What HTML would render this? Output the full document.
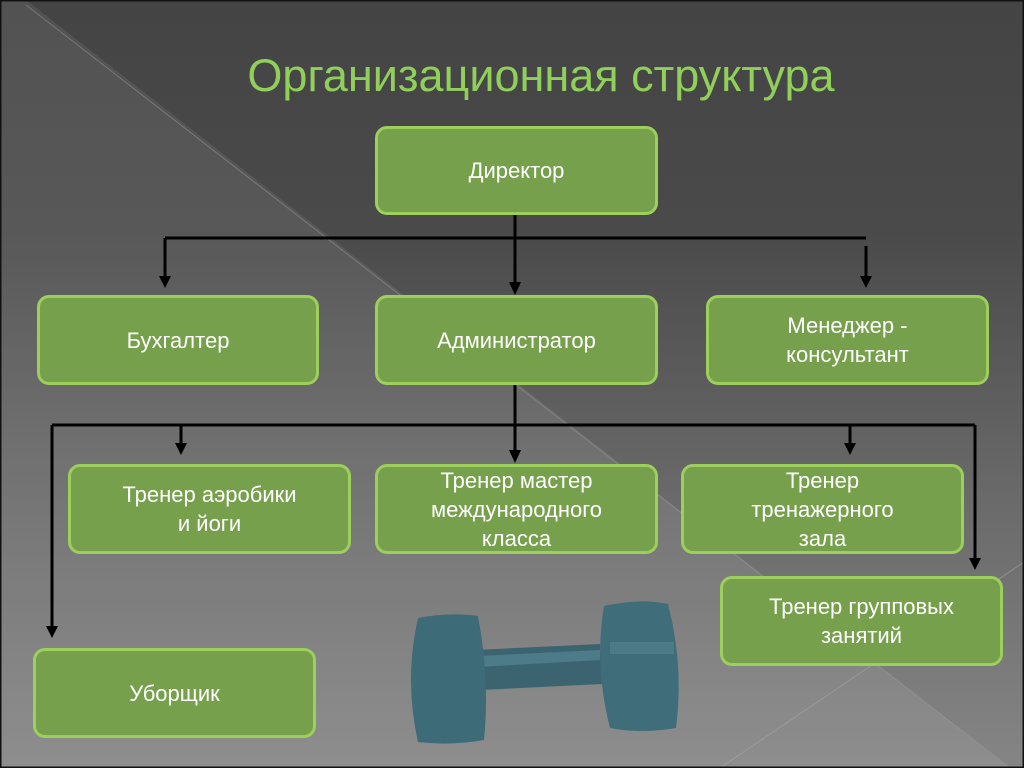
<!DOCTYPE html>
<html><head><meta charset="utf-8"><style>
html,body{margin:0;padding:0;}
body{width:1024px;height:768px;overflow:hidden;position:relative;font-family:"Liberation Sans",sans-serif;
background:linear-gradient(#444 0%,#4a4a4a 30%,#6a6a6a 65%,#858585 100%);}
.tri{position:absolute;left:0;top:0;width:1024px;height:768px;}
h1{position:absolute;left:0;width:1082px;top:50px;margin:0;text-align:center;font-weight:normal;font-size:45px;color:#8fcf5a;}
.b{position:absolute;box-sizing:border-box;background:#76a04c;border:3px solid #9ccf5c;border-radius:12px;color:#fff;font-size:22px;display:flex;align-items:center;justify-content:center;text-align:center;line-height:29px;}
</style></head><body>
<svg class="tri" width="1024" height="768">
<polygon points="0,0 26,0 1010,768 0,768" fill="#fff" opacity="0.08"/>
<line x1="26" y1="5" x2="1010" y2="768" stroke="#999" stroke-width="1" opacity="0.5"/>
<line x1="720" y1="768" x2="1024" y2="562" stroke="#aaa" stroke-width="1" opacity="0.5"/>
<rect x="0.5" y="0.5" width="1023" height="767" fill="none" stroke="#111" stroke-width="2"/>
<g stroke="#000" stroke-width="3" fill="none">
<line x1="515" y1="214" x2="515" y2="288"/>
<line x1="165" y1="238" x2="866" y2="238"/>
<line x1="165" y1="238" x2="165" y2="280"/>
<line x1="866" y1="246" x2="866" y2="280"/>
<line x1="515" y1="384" x2="515" y2="456"/>
<line x1="52" y1="425" x2="975" y2="425"/>
<line x1="181" y1="425" x2="181" y2="446"/>
<line x1="850" y1="425" x2="850" y2="446"/>
<line x1="52" y1="425" x2="52" y2="630"/>
<line x1="975" y1="425" x2="975" y2="562"/>
</g>
<g fill="#000">
<polygon points="159,276 171,276 165,288"/>
<polygon points="860,276 872,276 866,288"/>
<polygon points="509,282 521,282 515,295"/>
<polygon points="175,443 187,443 181,455"/>
<polygon points="844,443 856,443 850,455"/>
<polygon points="509,450 521,450 515,463"/>
<polygon points="46,626 58,626 52,638"/>
<polygon points="969,558 981,558 975,570"/>
</g>
<g>
<path d="M474,650 L600,644 L602,684 L480,690 Z" fill="#3b6470"/>
<path d="M478,656 L600,650 L600,660 L478,667 Z" fill="#4e7b88"/>
<path d="M418,618 Q450,612 478,616 Q490,680 484,740 Q450,746 418,742 Q404,680 418,618Z" fill="#3d6b78"/>
<path d="M604,606 Q640,598 668,604 Q684,665 676,728 Q640,734 610,728 Q594,665 604,606Z" fill="#3f6d7a"/>
<rect x="610" y="642" width="64" height="12" fill="#55838f" opacity="0.6"/>
</g>
</svg>
<h1>Организационная структура</h1>
<div class="b" style="left:375px;top:126px;width:283px;height:89px;">Директор</div>
<div class="b" style="left:37px;top:295px;width:282px;height:90px;">Бухгалтер</div>
<div class="b" style="left:375px;top:295px;width:283px;height:90px;">Администратор</div>
<div class="b" style="left:706px;top:295px;width:283px;height:90px;">Менеджер -<br>консультант</div>
<div class="b" style="left:68px;top:464px;width:283px;height:90px;">Тренер аэробики<br>и йоги</div>
<div class="b" style="left:375px;top:464px;width:283px;height:90px;">Тренер мастер<br>международного<br>класса</div>
<div class="b" style="left:681px;top:464px;width:283px;height:90px;">Тренер<br>тренажерного<br>зала</div>
<div class="b" style="left:720px;top:576px;width:283px;height:90px;">Тренер групповых<br>занятий</div>
<div class="b" style="left:33px;top:648px;width:283px;height:90px;">Уборщик</div>
</body></html>
